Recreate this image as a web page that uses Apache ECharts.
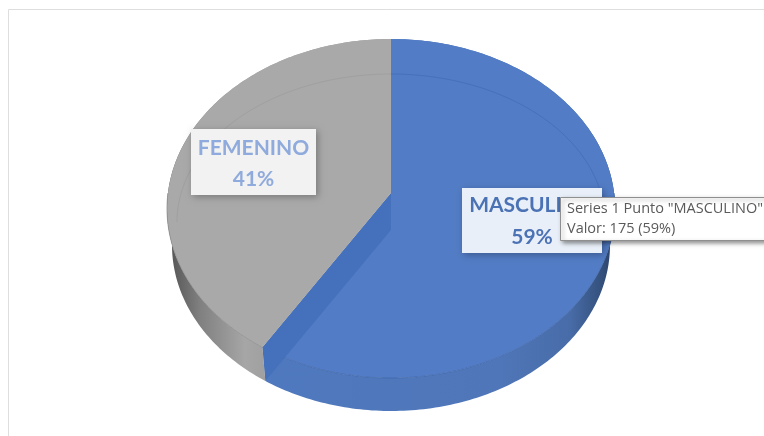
<!DOCTYPE html>
<html>
<head>
<meta charset="utf-8">
<style>html,body{margin:0;padding:0;background:#fff;overflow:hidden}#chart{width:764px;height:436px}</style>
<script src="https://cdn.jsdelivr.net/npm/echarts@6/dist/echarts.min.js"></script>
</head>
<body>
<div id="chart"></div>
<script>
// Data
var categories = ['MASCULINO', 'FEMENINO'];
var values = [175, 122];
var percentLabels = ['59%', '41%'];
var tooltipLines = ['Series 1 Punto "MASCULINO"', 'Valor: 175 (59%)'];
var seriesColors = ['#527cc5', '#a9a9a9'];
var labelColors = ['#4a72b4', '#8faadc'];

// Layout of the tilted pie
var FONT = 'Lato, "Open Sans", sans-serif';
var TIP_FONT = '"Open Sans", "Noto Sans", sans-serif';
var TOP = {cx: 391, cy: 208.5, rx: 224, ry: 169.5};
var BOTTOM = {cx: 391, cy: 245, rx: 219, ry: 166};
var K = 0.091; // perspective shift of the pie centre
var labelBoxes = [
  {x: 462, y: 188, w: 140, h: 65, fill: '#e9eff8', tx: 532, y1: 205, y2: 237},
  {x: 191, y: 129, w: 125, h: 66, fill: '#f2f2f2', tx: 253.5, y1: 148, y2: 179}
];
var wallFills = [
  [[263, '#4f79bf'], [500, '#4f76b8'], [570, '#486ca8'], [600, '#35527f'], [615, '#2a4065']],
  [[172, '#585858'], [200, '#808080'], [245, '#a6a6a6'], [265, '#a0a0a0']]
];
var rimColors = ['#3f66a8', '#8c8c8c'];

var total = values.reduce(function (a, b) { return a + b; }, 0);

// Maps a clockwise angle from 12 o'clock onto an ellipse, with perspective
function project(e, angle) {
  var u = Math.sin(angle), v = -Math.cos(angle), d = 1 - K * v;
  return [e.cx + e.rx * u * Math.sqrt(1 - K * K) / d, e.cy + e.ry * (v - K) / d];
}
function rim(e, a0, a1) {
  var pts = [], n = Math.max(2, Math.ceil(Math.abs(a1 - a0) * 60));
  for (var i = 0; i <= n; i++) pts.push(project(e, a0 + (a1 - a0) * i / n));
  return pts;
}
function wallGradient(stops) {
  var x0 = stops[0][0], x1 = stops[stops.length - 1][0];
  return {
    type: 'linear', global: true, x: x0, y: 0, x2: x1, y2: 0,
    colorStops: stops.map(function (s) { return {offset: (s[0] - x0) / (x1 - x0), color: s[1]}; })
  };
}

function renderSlice(params, api) {
  var i = params.dataIndex, before = 0;
  for (var j = 0; j < i; j++) before += values[j];
  var a0 = before / total * 2 * Math.PI;
  var a1 = (before + api.value(0)) / total * 2 * Math.PI;
  var apexTop = [TOP.cx, TOP.cy - TOP.ry * K];
  var apexBottom = [BOTTOM.cx, BOTTOM.cy - BOTTOM.ry * K];
  var topArc = rim(TOP, a0, a1), bottomArc = rim(BOTTOM, a0, a1);
  var children = [];

  // outer wall
  children.push({
    type: 'polygon',
    shape: {points: topArc.concat(bottomArc.slice().reverse())},
    style: {fill: wallGradient(wallFills[i])}
  });
  // top face
  children.push({
    type: 'polygon',
    shape: {points: [apexTop].concat(topArc)},
    style: {fill: seriesColors[i]}
  });
  // rim line along the front of the top face
  var frontStart = Math.max(a0, Math.PI * 0.5), frontEnd = Math.min(a1, Math.PI * 1.5);
  children.push({
    type: 'polyline',
    shape: {points: rim(TOP, frontStart, frontEnd)},
    style: {fill: null, stroke: rimColors[i], lineWidth: 1, opacity: 0.75}
  });
  // bevel line on the back half of the top face
  var bevelCol = i === 0 ? '#4671bb' : '#a0a0a0';
  var bevel = [];
  var bStart = i === 0 ? 0 : -Math.PI / 2, bEnd = i === 0 ? Math.PI / 2 : 0;
  for (var k = 0; k <= 50; k++) {
    var t = bStart + (bEnd - bStart) * k / 50;
    bevel.push([391 + 214 * Math.sin(t), 222 - 148 * Math.cos(t)]);
  }
  children.push({
    type: 'polyline', shape: {points: bevel},
    style: {fill: null, stroke: bevelCol, lineWidth: 1}
  });
  // cut face of the first slice, seen through the top
  if (i === 0) {
    children.push({
      type: 'polygon',
      shape: {points: [apexTop, topArc[topArc.length - 1], bottomArc[bottomArc.length - 1], apexBottom]},
      style: {fill: '#4570bb'}
    });
  }
  // data label
  var b = labelBoxes[i];
  children.push({
    type: 'rect', z2: 10,
    shape: {x: b.x, y: b.y, width: b.w, height: b.h},
    style: {fill: b.fill, shadowBlur: 7, shadowOffsetX: 2, shadowOffsetY: 2, shadowColor: 'rgba(0,0,0,0.28)'}
  });
  children.push({
    type: 'text', z2: 11, x: b.tx, y: b.y1,
    style: {text: categories[i], fill: labelColors[i], font: 'bold 21px ' + FONT, align: 'center', verticalAlign: 'middle'}
  });
  children.push({
    type: 'text', z2: 11, x: b.tx, y: b.y2,
    style: {text: percentLabels[i], fill: labelColors[i], font: 'bold 21px ' + FONT, align: 'center', verticalAlign: 'middle'}
  });
  return {type: 'group', children: children};
}

var chart = echarts.init(document.getElementById('chart'), null, {renderer: 'canvas'});
chart.setOption({
  animation: false,
  backgroundColor: '#ffffff',
  graphic: {
    elements: [
      {
        type: 'rect', z: 0, silent: true,
        shape: {x: 8.5, y: 9.5, width: 800, height: 500},
        style: {fill: '#ffffff', stroke: '#dedede', lineWidth: 1}
      },
      {
        type: 'rect', z: 100, silent: true,
        shape: {x: 560.5, y: 197.5, width: 260, height: 43},
        style: {fill: '#ffffff', stroke: '#8f8f8f', lineWidth: 1, shadowBlur: 4, shadowOffsetX: 2, shadowOffsetY: 2, shadowColor: 'rgba(0,0,0,0.4)'}
      },
      {
        type: 'text', z: 101, silent: true, x: 567, y: 209,
        style: {text: tooltipLines[0], fill: '#5a5a5a', font: '14.5px ' + TIP_FONT, verticalAlign: 'middle'}
      },
      {
        type: 'text', z: 101, silent: true, x: 567, y: 229,
        style: {text: tooltipLines[1], fill: '#5a5a5a', font: '14.5px ' + TIP_FONT, verticalAlign: 'middle'}
      }
    ]
  },
  series: [{
    type: 'custom',
    z: 2,
    coordinateSystem: 'none',
    silent: true,
    renderItem: renderSlice,
    data: values.map(function (v, i) { return {name: categories[i], value: [v]}; })
  }]
});
</script>
</body>
</html>
